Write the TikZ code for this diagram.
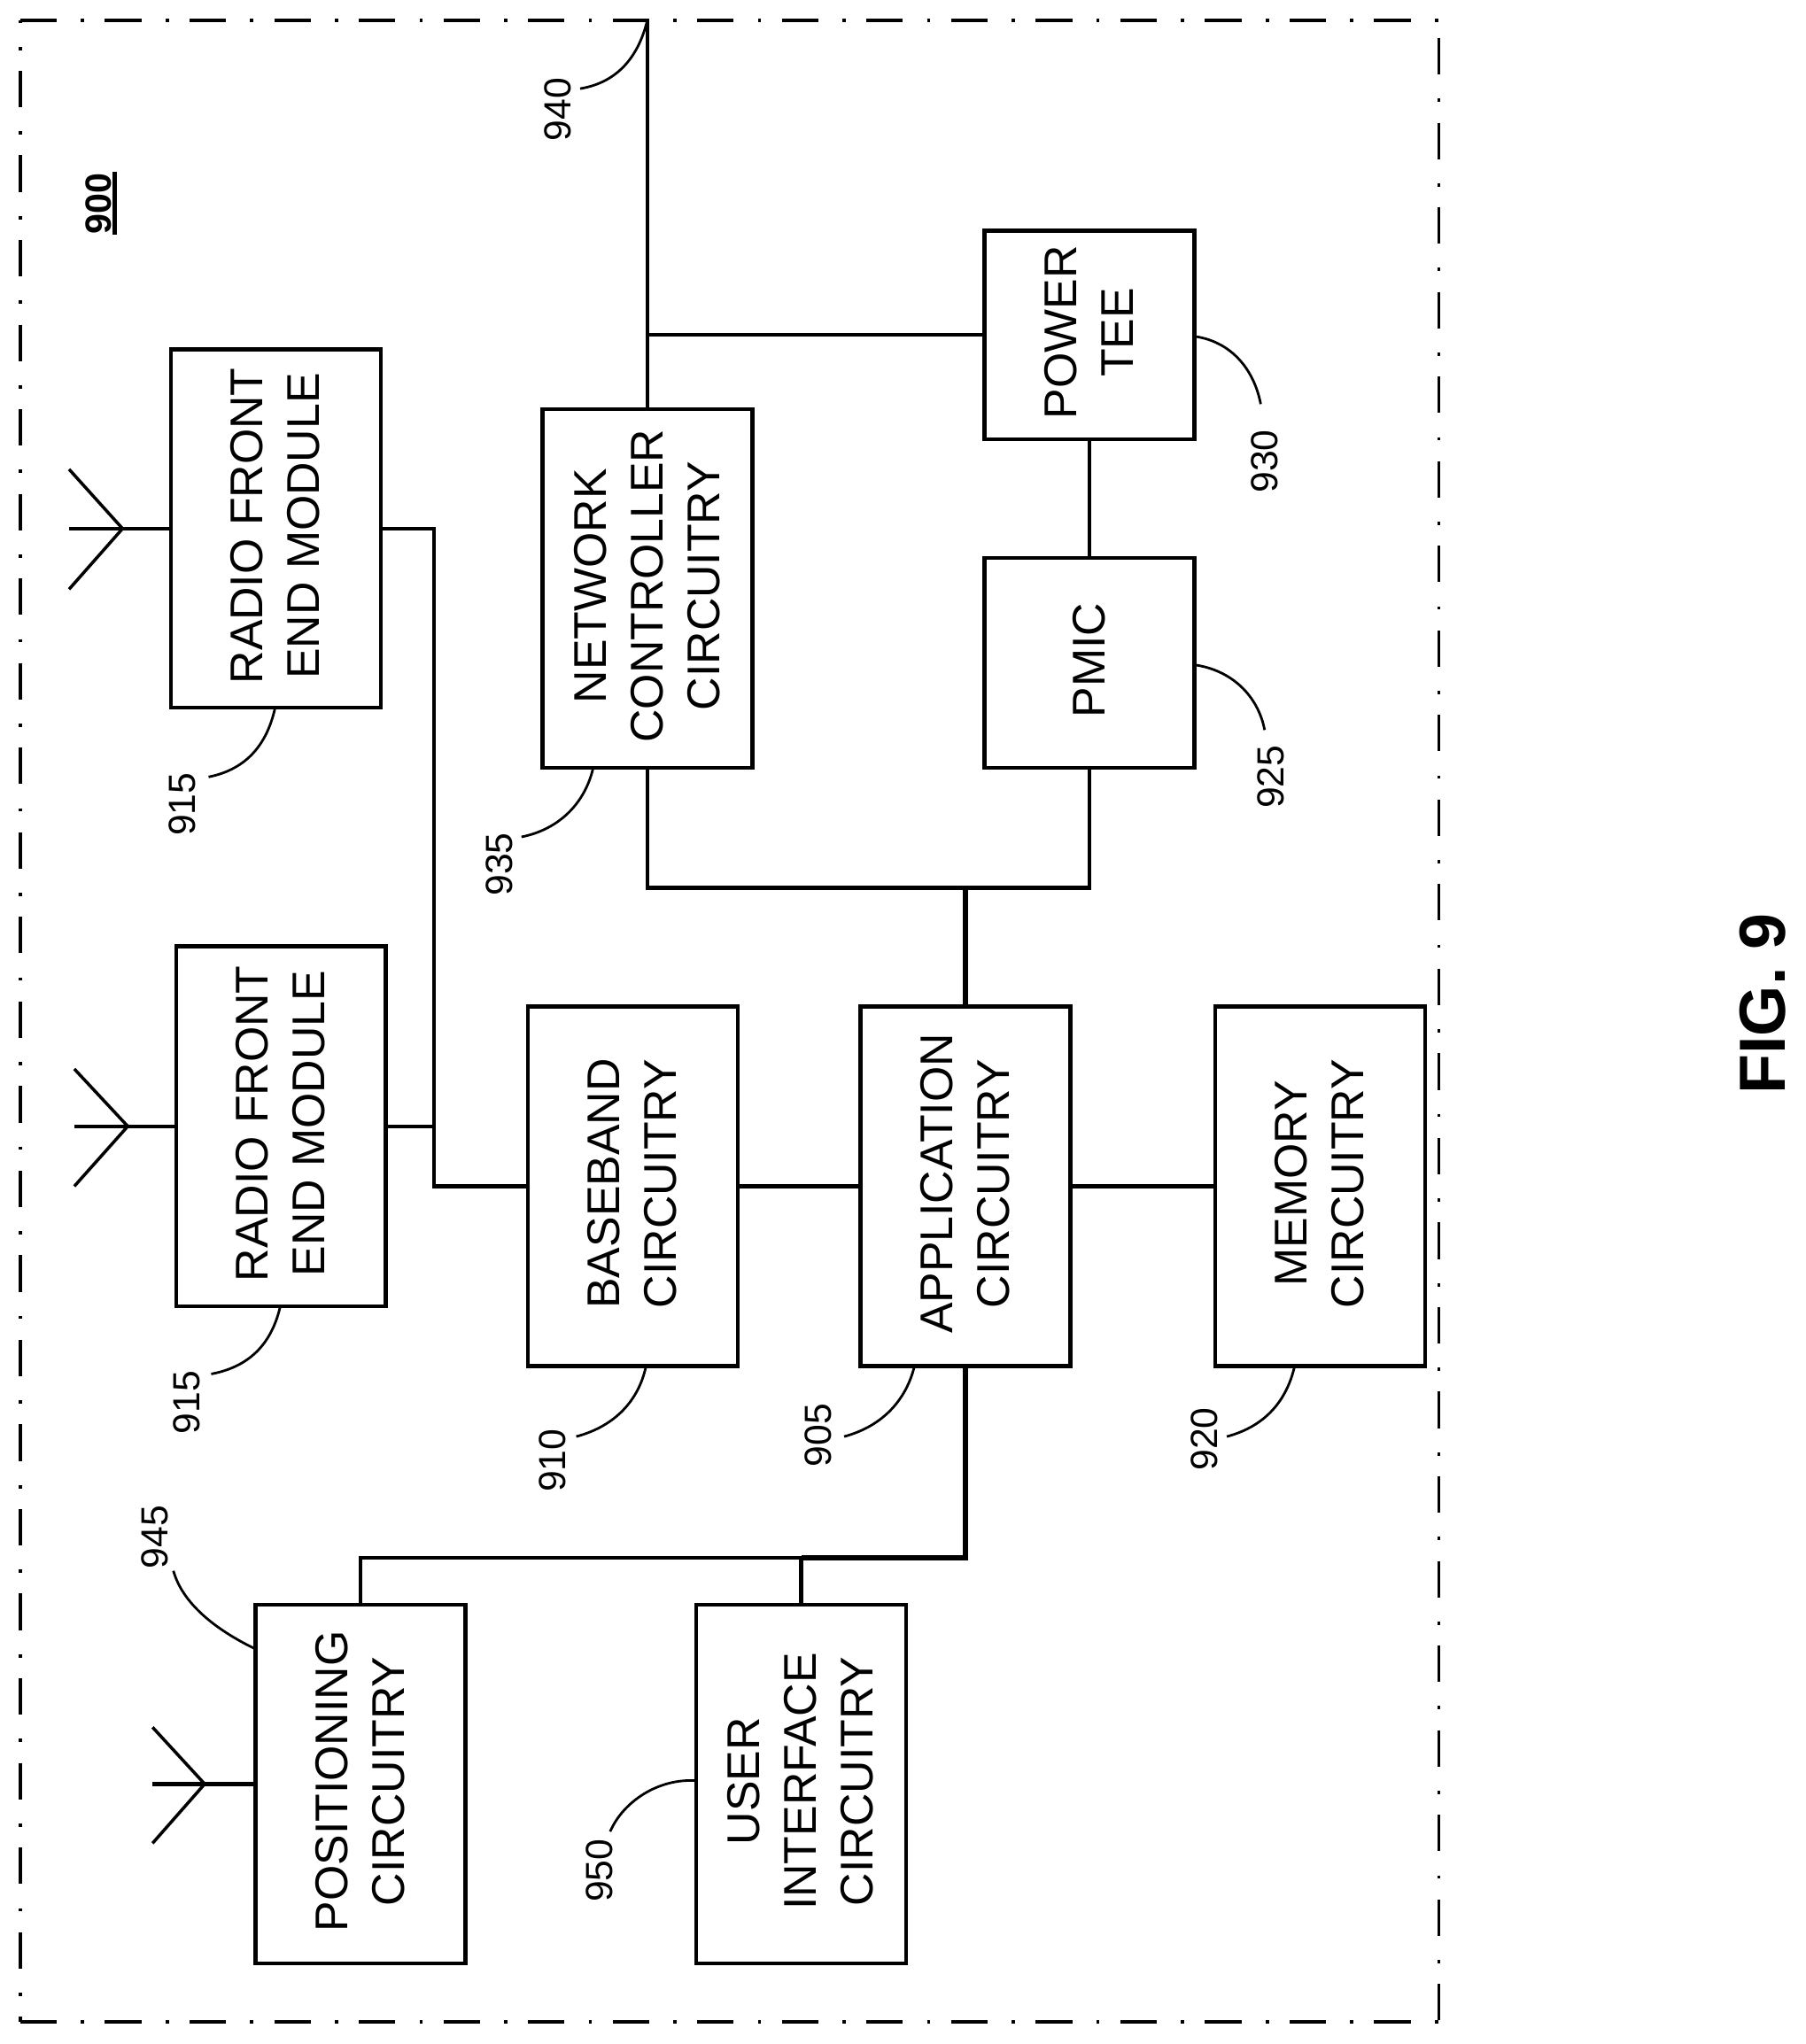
\documentclass[tikz,border=0pt]{standalone}
\usepackage{fontspec}
\setmainfont{Liberation Sans}
\tikzset{
  box/.style={draw=black,line width=3pt,fill=white,inner sep=0pt,align=center},
  wire/.style={draw=black,line width=2.9pt,line join=miter},
  trunk/.style={draw=black,line width=4.2pt,line join=miter},
  lead/.style={draw=black,line width=1.9pt},
  ref/.style={rotate=90,font=\fontsize{29}{31}\selectfont,inner sep=0pt},
  frame/.style={draw=black,line width=2.4pt,dash pattern=on 28pt off 18.5pt on 2.5pt off 15.9pt},
}
\newcommand{\boxtext}[1]{\hspace*{6pt}\rotatebox{90}{\hspace*{4pt}\fontsize{35.2}{43.5}\selectfont\begin{tabular}{@{}c@{}}#1\end{tabular}}}
\begin{document}
\begin{tikzpicture}[x=1pt,y=-1pt]
\useasboundingbox (0,0) rectangle (1385,1568);
% frame
\coordinate (c1) at (15.6,15.6); \coordinate (c2) at (1103.6,15.6);
\coordinate (c3) at (1103.6,1551); \coordinate (c4) at (15.6,1551);
\draw[frame] (c1) -- (c2);
\draw[frame] (c4) -- (c3);
\draw[frame,dash phase=26.2pt] (c1) -- (c4);
\draw[frame,dash phase=51.3pt] (c2) -- (c3);
% boxes
\node[box,minimum width=161pt,minimum height=275pt] (rfa) at (211.5,405.5) {\boxtext{RADIO FRONT\\END MODULE}};
\node[box,minimum width=161pt,minimum height=276pt] (rfb) at (215.5,864) {\boxtext{RADIO FRONT\\END MODULE}};
\node[box,minimum width=161pt,minimum height=276pt] (bb) at (485.5,910) {\boxtext{BASEBAND\\CIRCUITRY}};
\node[box,minimum width=161pt,minimum height=276pt] (app) at (740.5,910) {\boxtext{APPLICATION\\CIRCUITRY}};
\node[box,minimum width=161pt,minimum height=276pt] (mem) at (1012.5,910) {\boxtext{MEMORY\\CIRCUITRY}};
\node[box,minimum width=161pt,minimum height=275pt] (nc) at (496.5,451.5) {\boxtext{NETWORK\\CONTROLLER\\CIRCUITRY}};
\node[box,minimum width=161pt,minimum height=160pt] (tee) at (835.5,257) {\boxtext{POWER\\TEE}};
\node[box,minimum width=161pt,minimum height=161pt] (pmic) at (835.5,508.5) {\boxtext{PMIC}};
\node[box,minimum width=161pt,minimum height=275pt] (pos) at (276.5,1368.5) {\boxtext{POSITIONING\\CIRCUITRY}};
\node[box,minimum width=161pt,minimum height=275pt] (ui) at (614.5,1368.5) {\boxtext{USER\\INTERFACE\\CIRCUITRY}};
% junctions and free ends
\coordinate (top) at (nc.north |- c1);
\coordinate (jt) at (nc.north |- tee.west);
\coordinate (bus) at (333,0);
\coordinate (jnc) at (nc.south |- 0,681);
\coordinate (jpm) at (pmic.south |- 0,681);
\coordinate (japp) at (app.north |- 0,681);
\coordinate (jb) at (app.south |- 0,1195);
\coordinate (jp) at (pos.north |- 0,1195);
\coordinate (ju) at (ui.north |- 0,1195);
% connectors
\draw[wire] (top) -- (nc.north);
\draw[wire] (jt) -- (tee.west);
\draw[wire] (tee.south) -- (pmic.north);
\draw[wire] (nc.south) -- (jnc) -- (jpm) -- (pmic.south);
\draw[trunk] (app.north) -- (japp);
\draw[wire] (rfa.east) -- (bus |- rfa.east) -- (bus |- bb.west) -- (bb.west);
\draw[wire] (rfb.east) -- (bus |- rfb.east);
\draw[wire] (bb.east) -- (app.west);
\draw[wire] (app.east) -- (mem.west);
\draw[trunk] (app.south) -- (jb) -- (ju);
\draw[wire] (ju) -- (jp) -- (pos.north);
\draw[wire] (ju) -- (ui.north);
% antennas
\coordinate (a1) at (94,405.5); \coordinate (a1e) at (53,405.5);
\coordinate (a1u) at (53,360); \coordinate (a1d) at (53,452);
\draw[wire] (a1e) -- (rfa.west);
\draw[wire,line width=2.4pt] (a1u) -- (a1) -- (a1d);
\coordinate (a2) at (98,864); \coordinate (a2e) at (57,864);
\coordinate (a2u) at (57,820); \coordinate (a2d) at (57,910);
\draw[wire] (a2e) -- (rfb.west);
\draw[wire,line width=2.4pt] (a2u) -- (a2) -- (a2d);
\coordinate (a3) at (157,1368.5); \coordinate (a3e) at (117,1368.5);
\coordinate (a3u) at (117,1325); \coordinate (a3d) at (117,1414);
\draw[wire] (a3e) -- (pos.west);
\draw[wire,line width=2.4pt] (a3u) -- (a3) -- (a3d);
% labels
\node[ref] (l940) at (428,84) {940};
\node[ref] (l915a) at (140,617) {915};
\node[ref] (l915b) at (143,1076) {915};
\node[ref] (l910) at (424,1120.5) {910};
\node[ref] (l905) at (627.6,1101) {905};
\node[ref] (l920) at (923.5,1104) {920};
\node[ref] (l935) at (383,663) {935};
\node[ref] (l925) at (975,596) {925};
\node[ref] (l930) at (970,354) {930};
\node[ref] (l950) at (460,1435) {950};
\node[ref] (l945) at (119,1179) {945};
\node[rotate=90,inner sep=0pt,font=\fontsize{28}{30}\selectfont\bfseries] (l900) at (75.4,156) {900};
\coordinate (ua) at (88.3,131.8); \coordinate (ub) at (88.3,180);
\draw[draw=black,line width=3.4pt] (ua) -- (ub);
\node[rotate=90,inner sep=0pt,font=\fontsize{50}{52}\selectfont\bfseries] (fig) at (1352,770) {FIG. 9};
% leaders
\coordinate (e940) at (445,68); \coordinate (e915a) at (160,596); \coordinate (e915b) at (162,1054);
\coordinate (e910) at (442,1102); \coordinate (e905) at (647.5,1102); \coordinate (e920) at (941,1102);
\coordinate (e935) at (400,642); \coordinate (e925) at (970,560); \coordinate (e930) at (967,310);
\coordinate (e950) at (468,1405); \coordinate (e945) at (133,1205);
\coordinate (t915a) at (211,543); \coordinate (t915b) at (215,1002); \coordinate (t910) at (495.5,1048);
\coordinate (t905) at (701.4,1048); \coordinate (t920) at (993,1048); \coordinate (t935) at (455,589);
\coordinate (t925) at (916,510); \coordinate (t930) at (916,258); \coordinate (t950) at (534,1366); \coordinate (t945) at (196,1265);
\draw[lead] (e940) .. controls (475,63) and (490,42) .. (top);
\draw[lead] (e915a) .. controls (190,590) and (205,570) .. (t915a);
\draw[lead] (e915b) .. controls (194,1048) and (209,1028) .. (t915b);
\draw[lead] (e910) .. controls (472,1094) and (490,1074) .. (t910);
\draw[lead] (e905) .. controls (677,1094) and (695,1074) .. (t905);
\draw[lead] (e920) .. controls (971,1094) and (987,1074) .. (t920);
\draw[lead] (e935) .. controls (430,636) and (449,615) .. (t935);
\draw[lead] (t925) .. controls (945,514) and (965,534) .. (e925);
\draw[lead] (t930) .. controls (945,262) and (962,284) .. (e930);
\draw[lead] (e950) .. controls (478,1382) and (505,1364) .. (t950);
\draw[lead] (e945) .. controls (140,1230) and (165,1250) .. (t945);
\end{tikzpicture}
\end{document}
